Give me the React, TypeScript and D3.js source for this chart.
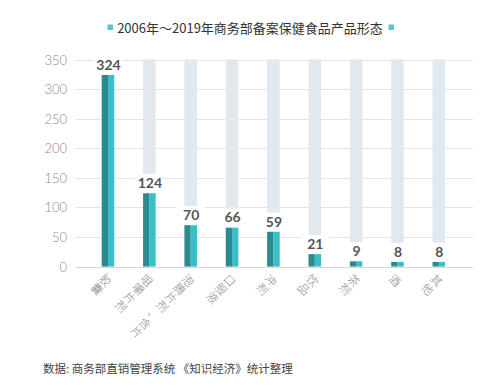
import React, { useRef, useEffect } from 'react';
import * as d3 from 'd3';

const title = '2006年～2019年商务部备案保健食品产品形态';
const source = '数据: 商务部直销管理系统 《知识经济》统计整理';
const categories = ['胶囊', '咀嚼片剂', '泡腾片剂、含片', '口服液', '冲剂', '饮品', '茶剂', '酒', '其他'];
const counts = [324, 124, 70, 66, 59, 21, 9, 8, 8];
const yTicks = [0, 50, 100, 150, 200, 250, 300, 350];

const App: React.FC = () => {
  const ref = useRef<SVGSVGElement | null>(null);

  useEffect(() => {
    if (!ref.current) return;
    const width = 500;
    const height = 392;
    const svg = d3.select(ref.current);
    svg.selectAll('*').remove();
    svg.attr('width', width).attr('height', height);

    const grid = { left: 76, right: 473 };
    const x = d3.scalePoint<string>().domain(categories).range([87.3, 459.5]).padding(0.5);
    const y = d3.scaleLinear().domain([0, 350]).range([266.5, 59.5]);
    const barW = 12.5;

    // title + legend squares
    svg.append('text')
      .attr('x', 250).attr('y', 27)
      .attr('text-anchor', 'middle').attr('dominant-baseline', 'central')
      .style('font-family', '"Noto Sans CJK SC", sans-serif')
      .style('font-size', '13px')
      .attr('fill', '#333')
      .text(title);
    [107.5, 388.5].forEach(lx => {
      svg.append('rect')
        .attr('x', lx).attr('y', 24.5).attr('width', 5.5).attr('height', 5.5)
        .attr('fill', '#5cc6c9');
    });

    // grid lines + y labels
    const gy = svg.append('g');
    yTicks.forEach(t => {
      const yy = Math.round(y(t)) + 0.5;
      gy.append('line')
        .attr('x1', grid.left).attr('x2', grid.right)
        .attr('y1', yy).attr('y2', yy)
        .attr('stroke', t === 0 ? '#d6d6d6' : '#e4e4e4')
        .attr('stroke-width', 1);
      gy.append('text')
        .attr('x', 67).attr('y', y(t))
        .attr('text-anchor', 'end').attr('dominant-baseline', 'central')
        .style('font-family', 'Lato, "Open Sans", sans-serif')
        .style('font-weight', 300)
        .style('font-size', '13px')
        .attr('fill', '#8a8a8a')
        .text(t);
    });

    const bars = svg.append('g');
    categories.forEach((c, i) => {
      const cx = x(c) as number;
      const v = counts[i];
      // light background column
      bars.append('rect')
        .attr('x', cx - barW / 2).attr('width', barW)
        .attr('y', y(350)).attr('height', y(0) - y(350))
        .attr('fill', '#e1e8ee');
      // two-tone bar
      bars.append('rect')
        .attr('x', cx - barW / 2).attr('width', barW / 2)
        .attr('y', y(v)).attr('height', y(0) - y(v))
        .attr('fill', '#2a8a8f');
      bars.append('rect')
        .attr('x', cx).attr('width', barW / 2)
        .attr('y', y(v)).attr('height', y(0) - y(v))
        .attr('fill', '#39bfc6');
      // value label on white patch
      const base = y(v) - 5;
      bars.append('rect')
        .attr('x', cx - 14).attr('width', 28)
        .attr('y', base - 14).attr('height', y(v) - base + 14)
        .attr('fill', '#fff');
      bars.append('text')
        .attr('x', cx + 0.5).attr('y', base)
        .attr('text-anchor', 'middle')
        .style('font-family', 'Lato, "Open Sans", sans-serif')
        .style('font-weight', 700)
        .style('font-size', '14px')
        .attr('fill', '#555')
        .text(v);
    });

    // category labels: stacked characters, tilted 45deg
    const gx = svg.append('g');
    categories.forEach(c => {
      const cx = (x(c) as number) - 2;
      Array.from(c).forEach((ch, j) => {
        const px = cx - j * 8.6;
        const py = 280 + j * 8.6;
        gx.append('text')
          .attr('x', px).attr('y', py)
          .attr('text-anchor', 'middle').attr('dominant-baseline', 'central')
          .attr('transform', `rotate(45, ${px}, ${py})`)
          .style('font-family', '"Noto Sans CJK SC", sans-serif')
          .style('font-weight', 300)
          .style('font-size', '11.5px')
          .attr('fill', '#888')
          .text(ch);
      });
    });

    svg.append('text')
      .attr('x', 43).attr('y', 368)
      .attr('dominant-baseline', 'central')
      .style('font-family', '"Noto Sans CJK SC", serif')
      .style('font-size', '11.5px')
      .attr('fill', '#444')
      .text(source);
  }, []);

  return <svg ref={ref} style={{ position: 'absolute', left: 0, top: 0, background: '#fff' }}></svg>;
};

export default App;
